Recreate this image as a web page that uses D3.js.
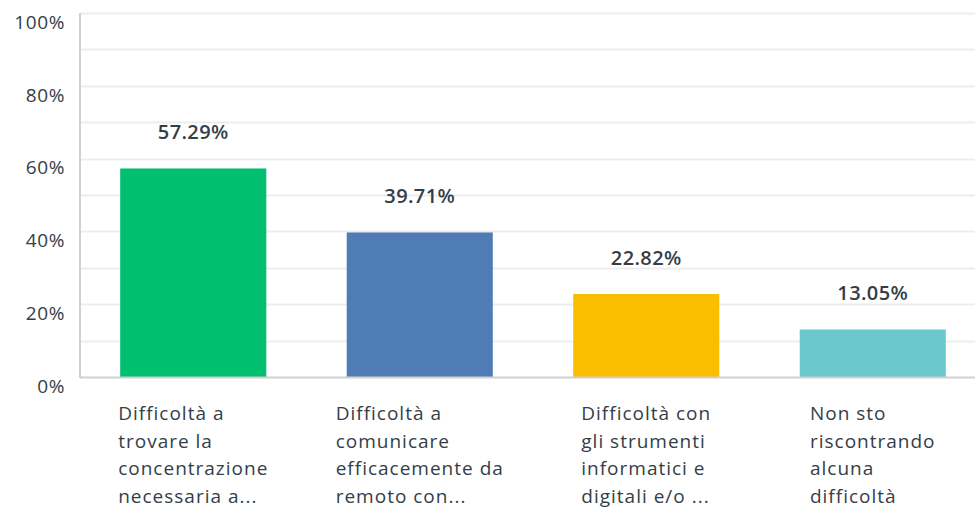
<!DOCTYPE html>
<html>
<head>
<meta charset="utf-8">
<script src="https://cdn.jsdelivr.net/npm/d3@7"></script>
<style>
  body { margin: 0; background: #fff; }
  text { font-family: "Open Sans", Roboto, sans-serif; }
</style>
</head>
<body>
<div id="chart"></div>
<script>
const svgWidth = 975;
const svgHeight = 512;

const categories = [
    ["Difficoltà a", "trovare la", "concentrazione", "necessaria a..."],
    ["Difficoltà a", "comunicare", "efficacemente da", "remoto con..."],
    ["Difficoltà con", "gli strumenti", "informatici e", "digitali e/o ..."],
    ["Non sto", "riscontrando", "alcuna", "difficoltà"]
];
const values = [57.29, 39.71, 22.82, 13.05];
const colors = ["#00bf6f", "#507cb6", "#f9be00", "#6bc8cd"];
const yTicks = [0, 20, 40, 60, 80, 100];
const gridTicks = [10, 20, 30, 40, 50, 60, 70, 80, 90, 100];

const plotLeft = 80, plotRight = 986, plotTop = 13, plotBottom = 377;

const x = d3.scaleBand()
    .domain(d3.range(values.length))
    .range([plotLeft, plotRight])
    .paddingInner(0.355)
    .paddingOuter(0.1775);

const y = d3.scaleLinear()
    .domain([0, 100])
    .range([plotBottom, plotTop]);

const svg = d3.select("#chart").append("svg")
    .attr("width", svgWidth)
    .attr("height", svgHeight);

// grid
svg.append("g")
    .selectAll("line")
    .data(gridTicks)
    .enter()
    .append("line")
    .attr("x1", plotLeft)
    .attr("x2", svgWidth)
    .attr("y1", d => Math.round(y(d)) + 0.5)
    .attr("y2", d => Math.round(y(d)) + 0.5)
    .attr("stroke", "#ededed")
    .attr("stroke-width", 2);

// y axis
const axisY = svg.append("g")
    .attr("transform", `translate(${plotLeft}, 0)`)
    .call(d3.axisLeft(y).tickValues(yTicks).tickSize(0).tickPadding(15).tickFormat(d => d + "%"));
axisY.select(".domain").remove();
axisY.selectAll("text")
    .attr("font-size", 19)
    .attr("font-family", "'Open Sans', sans-serif")
    .attr("letter-spacing", 0.6)
    .attr("fill", "#333e48")
    .attr("dy", "0.8em");

svg.append("line")
    .attr("x1", plotLeft).attr("x2", plotLeft)
    .attr("y1", plotTop).attr("y2", plotBottom + 1)
    .attr("stroke", "#d0d0d0")
    .attr("stroke-width", 2);

// bars
svg.append("g")
    .selectAll("rect")
    .data(values)
    .enter()
    .append("rect")
    .attr("x", (d, i) => x(i))
    .attr("y", d => y(d))
    .attr("width", x.bandwidth())
    .attr("height", d => y(0) - y(d))
    .attr("fill", (d, i) => colors[i]);

svg.append("line")
    .attr("x1", plotLeft).attr("x2", svgWidth)
    .attr("y1", plotBottom + 0.5).attr("y2", plotBottom + 0.5)
    .attr("stroke", "#d0d0d0")
    .attr("stroke-width", 2);

// value labels
svg.append("g")
    .selectAll("text")
    .data(values)
    .enter()
    .append("text")
    .attr("x", (d, i) => x(i) + x.bandwidth() / 2)
    .attr("y", d => y(d) - 29)
    .attr("text-anchor", "middle")
    .attr("font-size", 20)
    .attr("font-weight", 600)
    .attr("letter-spacing", 0.4)
    .attr("fill", "#333e48")
    .text(d => d.toFixed(2) + "%");

// category labels: left-aligned block, centred under the bar
const cat = svg.append("g")
    .selectAll("text")
    .data(categories)
    .enter()
    .append("text")
    .attr("y", 420)
    .attr("font-size", 19)
    .attr("letter-spacing", 1)
    .attr("fill", "#333e48");

cat.selectAll("tspan")
    .data(d => d)
    .enter()
    .append("tspan")
    .attr("dy", (d, i) => i === 0 ? 0 : 27.5)
    .text(d => d);

cat.each(function (d, i) {
    const spans = d3.select(this).selectAll("tspan");
    const w = d3.max(spans.nodes(), n => n.getComputedTextLength());
    const cx = x(i) + x.bandwidth() / 2;
    spans.attr("x", cx - w / 2);
});
</script>
</body>
</html>
